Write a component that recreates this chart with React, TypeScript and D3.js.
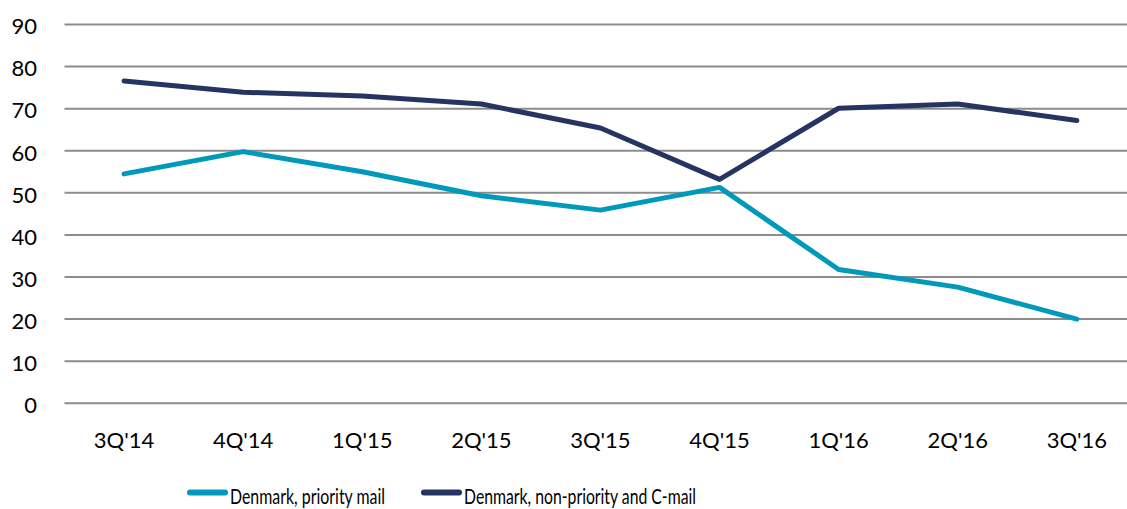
import React from "react";
import * as d3 from "d3";

const categories = ["3Q'14", "4Q'14", "1Q'15", "2Q'15", "3Q'15", "4Q'15", "1Q'16", "2Q'16", "3Q'16"];
const priorityMail = [54.5, 59.8, 55.0, 49.3, 45.9, 51.3, 31.8, 27.6, 20.0];
const nonPriorityMail = [76.6, 73.9, 73.0, 71.1, 65.4, 53.2, 70.1, 71.1, 67.2];
const yTicks = [0, 10, 20, 30, 40, 50, 60, 70, 80, 90];
const seriesNames = ["Denmark, priority mail", "Denmark, non-priority and C-mail"];
const seriesColors = ["#0099BB", "#253461"];

const W = 1127;
const H = 509;
const FONT = "Lato, 'Open Sans', sans-serif";

export default function App() {
  const x = d3.scaleBand<string>().domain(categories).range([64.5, 64.5 + 9 * 119.1]);
  const y = d3.scaleLinear().domain([0, 90]).range([403.3, 24.5]);
  const line = d3
    .line<number>()
    .x((_, i) => (x(categories[i]) as number) + x.bandwidth() / 2)
    .y((d) => y(d));
  const series = [priorityMail, nonPriorityMail];
  const legendX = [190, 424];
  const legendTextLen = [155, 232];

  return (
    <svg width={W} height={H} style={{ position: "absolute", left: 0, top: 0, background: "#fff" }}>
      {yTicks.map((t) => (
        <g key={t}>
          <line x1={64.5} x2={W} y1={y(t)} y2={y(t)} stroke="#8c8c8c" strokeWidth={2} />
          <text x={37} y={y(t) + 9.8} textAnchor="end" fontFamily={FONT} fontSize={22} fill="#000">
            {t}
          </text>
        </g>
      ))}
      {categories.map((c) => (
        <text
          key={c}
          x={(x(c) as number) + x.bandwidth() / 2}
          y={448}
          textAnchor="middle"
          fontFamily={FONT}
          fontSize={22}
          fill="#000"
        >
          {c}
        </text>
      ))}
      {series.map((s, i) => (
        <path
          key={i}
          d={line(s) || ""}
          fill="none"
          stroke={seriesColors[i]}
          strokeWidth={5}
          strokeLinecap="round"
          strokeLinejoin="round"
        />
      ))}
      {seriesNames.map((n, i) => (
        <g key={n}>
          <line
            x1={legendX[i]}
            x2={legendX[i] + 35}
            y1={492.5}
            y2={492.5}
            stroke={seriesColors[i]}
            strokeWidth={6}
            strokeLinecap="round"
          />
          <text
            x={legendX[i] + 40}
            y={504}
            fontFamily={FONT}
            fontSize={22}
            fill="#000"
            textLength={legendTextLen[i]}
            lengthAdjust="spacingAndGlyphs"
          >
            {n}
          </text>
        </g>
      ))}
    </svg>
  );
}
